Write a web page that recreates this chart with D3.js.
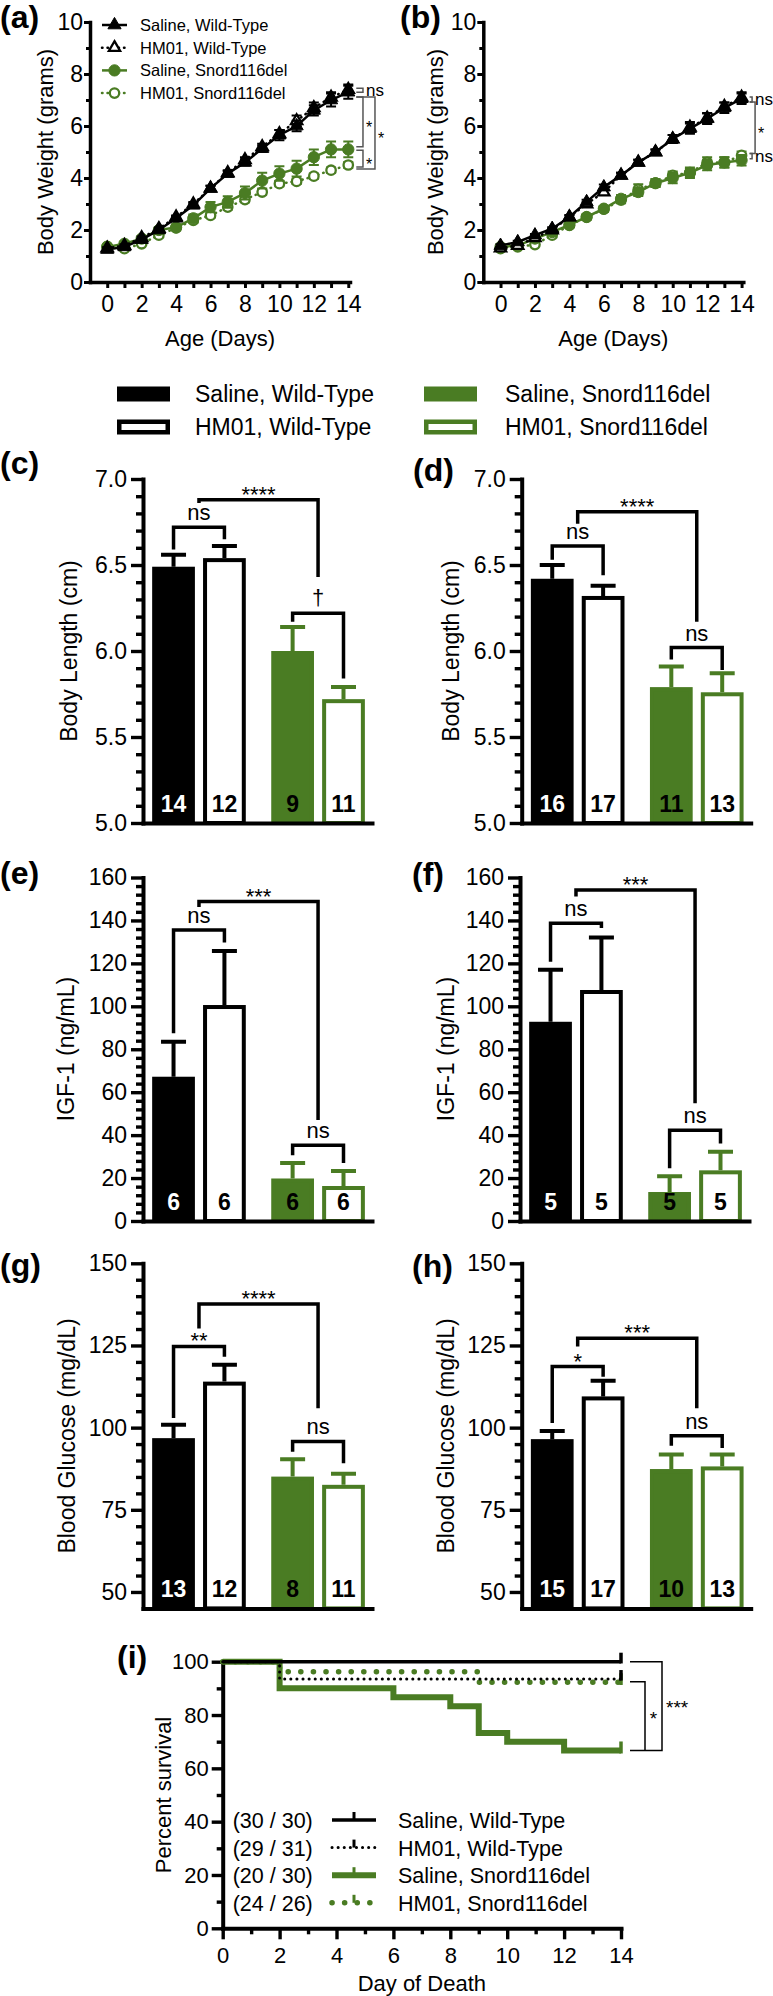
<!DOCTYPE html>
<html><head><meta charset="utf-8">
<script src="https://cdn.jsdelivr.net/npm/d3@7"></script>
<style>body{margin:0;background:#fff}svg{display:block}</style>
</head><body>
<svg id="c" width="773" height="1996"></svg>
<script>
// ---------------- DATA ----------------
const groups = ["Saline, Wild-Type", "HM01, Wild-Type", "Saline, Snord116del", "HM01, Snord116del"];
const days = [0,1,2,3,4,5,6,7,8,9,10,11,12,13,14];

// (a) body weight
const aSalineWT    = [1.25,1.35,1.63,2.0,2.45,2.95,3.6,4.17,4.6,5.13,5.65,6.0,6.6,7.0,7.3];
const aSalineWTErr = [0.05,0.05,0.05,0.06,0.07,0.08,0.1,0.1,0.12,0.12,0.2,0.2,0.2,0.25,0.25];
const aHM01WT      = [1.3,1.4,1.7,2.05,2.5,3.0,3.6,4.2,4.7,5.2,5.7,6.2,6.7,7.1,7.4];
const aHM01WTErr   = [0.05,0.05,0.05,0.05,0.06,0.08,0.1,0.1,0.1,0.12,0.15,0.2,0.2,0.2,0.2];
const aSalineDel   = [1.35,1.47,1.67,2.0,2.1,2.45,2.88,3.08,3.42,3.9,4.17,4.36,4.8,5.1,5.1];
const aSalineDelErr= [0.08,0.08,0.08,0.1,0.12,0.15,0.2,0.22,0.25,0.3,0.28,0.3,0.3,0.3,0.3];
const aHM01Del     = [1.37,1.28,1.47,1.8,2.08,2.37,2.56,2.88,3.17,3.46,3.78,3.87,4.07,4.3,4.5];
const aHM01DelErr  = [0.05,0.05,0.05,0.06,0.07,0.08,0.08,0.1,0.1,0.1,0.1,0.1,0.1,0.1,0.12];
const aSig = [ {y1:7.45,y2:7.3,label:"ns",lane:0}, {y1:7.12,y2:5.2,label:"*",lane:0},
               {y1:5.07,y2:4.42,label:"*",lane:0}, {y1:7.12,y2:4.35,label:"*",lane:1} ];

// (b) body weight
const bSalineWT    = [1.4,1.54,1.8,2.05,2.5,3.08,3.65,4.1,4.6,5.0,5.5,5.9,6.28,6.7,7.05];
const bSalineWTErr = [0.05,0.05,0.05,0.06,0.08,0.08,0.1,0.1,0.1,0.1,0.15,0.2,0.2,0.2,0.2];
const bHM01WT      = [1.3,1.4,1.7,2.0,2.5,3.0,3.46,4.1,4.6,5.0,5.5,5.95,6.3,6.75,7.1];
const bHM01WTErr   = [0.05,0.05,0.05,0.05,0.06,0.08,0.1,0.1,0.1,0.1,0.15,0.2,0.2,0.15,0.2];
const bSalineDel   = [1.35,1.4,1.67,1.92,2.2,2.5,2.82,3.2,3.46,3.8,4.0,4.2,4.5,4.6,4.68];
const bSalineDelErr= [0.05,0.05,0.05,0.06,0.08,0.1,0.1,0.15,0.15,0.15,0.2,0.2,0.2,0.2,0.2];
const bHM01Del     = [1.28,1.35,1.44,1.8,2.18,2.5,2.8,3.15,3.56,3.8,4.1,4.2,4.6,4.6,4.87];
const bHM01DelErr  = [0.05,0.05,0.05,0.06,0.08,0.1,0.1,0.12,0.2,0.15,0.15,0.15,0.2,0.2,0.15];
const bSig = [ {y1:7.12,y2:6.92,label:"ns",lane:0}, {y1:6.92,y2:4.94,label:"*",lane:1},
               {y1:4.94,y2:4.74,label:"ns",lane:0} ];

// (c),(d) body length
const cMean = [6.49,6.54,6.00,5.72], cErr = [0.07,0.07,0.14,0.07], cN = [14,12,9,11];
const cSig = [[0,1,6.72,6.59,6.65,"ns"],[0.5,2.5,6.88,6.86,6.43,"****"],[2,3,6.22,6.17,5.84,"†"]];
const dMean = [6.42,6.32,5.79,5.76], dErr = [0.08,0.06,0.12,0.11], dN = [16,17,11,13];
const dSig = [[0,1,6.61,6.53,6.44,"ns"],[0.5,2.5,6.81,6.74,6.17,"****"],[2,3,6.02,5.95,5.89,"ns"]];
// (e),(f) IGF-1
const eMean = [67.2,100.6,19.8,16.3], eErr = [16.3,25.2,7.2,7.0], eN = [6,6,6,6];
const eSig = [[0,1,135.6,87.5,129.7,"ns"],[0.5,2.5,148.8,146.3,47,"***"],[2,3,35.3,30.6,27,"ns"]];
const fMean = [92.8,107.6,13.5,23.6], fErr = [24.2,24.4,7.3,8.6], fN = [5,5,5,5];
const fSig = [[0,1,138.7,120.8,136.5,"ns"],[0.5,2.5,154.2,151.1,54.8,"***"],[2,3,42.3,24.6,36.1,"ns"]];
// (g),(h) blood glucose
const gMean = [96.8,114.0,85.1,82.6], gErr = [4.1,5.1,5.3,3.4], gN = [13,12,8,11];
const gSig = [[0,1,124.7,102.9,121.6,"**"],[0.5,2.5,137.6,130.2,105.9,"****"],[2,3,95.8,92.7,89.2,"ns"]];
const hMean = [96.5,109.5,87.4,88.2], hErr = [2.5,4.8,4.4,3.6], hN = [15,17,10,13];
const hSig = [[0,1,118.6,101.4,115.5,"*"],[0.5,2.5,127.2,124.7,105.9,"***"],[2,3,97.5,94.5,93.8,"ns"]];

// (i) survival
const survSalineWT  = {t:[0,14], v:[100,100]};
const survHM01WT    = {t:[0,2,14], v:[100,93.5,93.5]};
const survSalineDel = {t:[0,2,6,8,9,10,12,14], v:[100,90,86.7,83.3,73.3,70,66.7,66.7]};
const survHM01Del   = {t:[0,2,9,14], v:[100,96.2,92.3,92.3]};
const survCounts = ["(30 / 30)","(29 / 31)","(20 / 30)","(24 / 26)"];

const weightTicks = [0,2,4,6,8,10];

// ---------------- DRAWING ----------------
const FONT = "'Liberation Sans', Arial, Helvetica, sans-serif";
const GREEN = "#4a7c23";
const COL = ["#000","#000",GREEN,GREEN];
const FILLED = [true,false,true,false];
const svg = d3.select("#c").attr("font-family", FONT);

function styleAxis(s, fs, sw) {
  s.attr("font-family", FONT).attr("font-size", fs);
  s.select(".domain").attr("stroke","#000").attr("stroke-width", sw).attr("stroke-linecap","square");
  s.selectAll(".tick line").attr("stroke","#000").attr("stroke-width", sw*0.85);
  s.selectAll(".tick text").attr("fill","#000");
}
function minorAxis(s, sw) {
  s.select(".domain").remove();
  s.selectAll(".tick line").attr("stroke","#000").attr("stroke-width", sw*0.85);
  s.selectAll(".tick text").remove();
}
function panelLabel(t, x, y) {
  svg.append("text").attr("x",x).attr("y",y).attr("font-size",32).attr("font-weight","bold").text(t);
}
function yTitle(t, cx, cy, fs) {
  svg.append("text").attr("transform",`translate(${cx},${cy}) rotate(-90)`)
    .attr("text-anchor","middle").attr("dominant-baseline","central").attr("font-size",fs).text(t);
}

// ---- line panels ----
function linePanel(left, series, sig, laneOff) {
  const x = d3.scaleLinear().domain([-1,14.1]).range([left,left+260]);
  const y = d3.scaleLinear().domain([0,10]).range([282,22]);
  const g = svg.append("g");
  g.append("g").attr("transform",`translate(${left},0)`)
    .call(d3.axisLeft(y).tickValues([1,3,5,7,9]).tickSize(4)).call(s=>minorAxis(s,3.5));
  g.append("g").attr("transform",`translate(${left},0)`)
    .call(d3.axisLeft(y).tickValues(weightTicks).tickSize(6).tickSizeOuter(0).tickPadding(1))
    .call(s=>styleAxis(s,23,3.5));
  g.append("g").attr("transform",`translate(0,${y(0)})`)
    .call(d3.axisBottom(x).tickValues(days).tickSize(6).tickSizeOuter(0).tickPadding(8)
      .tickFormat(d => d%2===0 ? d : ""))
    .call(s=>styleAxis(s,23,3.5));
  g.append("text").attr("x",(left+left+260)/2).attr("y",346).attr("text-anchor","middle")
    .attr("font-size",22).text("Age (Days)");

  [3,2,1,0].forEach(k => {
    const s = series[k];
    const line = d3.line().x((d,i)=>x(days[i])).y(d=>y(d));
    g.append("path").attr("d", line(s.v)).attr("fill","none").attr("stroke",COL[k])
      .attr("stroke-width",2.5).attr("stroke-dasharray", FILLED[k] ? null : "0.5,5")
      .attr("stroke-linecap", FILLED[k] ? "butt" : "round");
    s.v.forEach((v,i)=>{
      const xi = x(days[i]), e = s.e[i];
      g.append("path").attr("d",`M${xi},${y(v-e)}V${y(v+e)}M${xi-5},${y(v+e)}H${xi+5}M${xi-5},${y(v-e)}H${xi+5}`)
        .attr("stroke",COL[k]).attr("stroke-width",2).attr("fill","none");
    });
    g.selectAll(null).data(s.v).enter().append("path")
      .attr("transform",(d,i)=>`translate(${x(days[i])},${y(d)})`)
      .attr("d", d3.symbol(k<2 ? d3.symbolTriangle : d3.symbolCircle, k<2 ? (FILLED[k]?75:55) : (FILLED[k]?100:70))())
      .attr("fill", FILLED[k] ? COL[k] : "#fff").attr("stroke", COL[k]).attr("stroke-width", FILLED[k]?1:2.3);
  });

  // significance
  const x14 = x(14);
  sig.forEach(b => {
    const xv = x14 + laneOff[b.lane], xs = x14 + 8;
    g.append("path").attr("d",`M${xs},${y(b.y1)}H${xv}V${y(b.y2)}H${xs}`)
      .attr("stroke","#555").attr("stroke-width",1.5).attr("fill","none");
    const star = b.label !== "ns";
    g.append("text").attr("x", xv+3).attr("y", y((b.y1+b.y2)/2) + (star?6:0))
      .attr("dominant-baseline","central").attr("font-size", star?16:17).text(b.label);
  });
  return {x,y,g};
}

const A = linePanel(90, [
  {v:aSalineWT,e:aSalineWTErr},{v:aHM01WT,e:aHM01WTErr},{v:aSalineDel,e:aSalineDelErr},{v:aHM01Del,e:aHM01DelErr}
], aSig, [14.7, 26.7]);
linePanel(483.3, [
  {v:bSalineWT,e:bSalineWTErr},{v:bHM01WT,e:bHM01WTErr},{v:bSalineDel,e:bSalineDelErr},{v:bHM01Del,e:bHM01DelErr}
], bSig, [10.5, 13.5]);

// legend in (a)
groups.forEach((name,k)=>{
  const ry = 25 + k*22.7;
  A.g.append("line").attr("x1",102).attr("x2",127).attr("y1",ry).attr("y2",ry)
    .attr("stroke",COL[k]).attr("stroke-width",2.5)
    .attr("stroke-dasharray", FILLED[k]?null:"0.5,5").attr("stroke-linecap", FILLED[k]?"butt":"round");
  A.g.append("path").attr("transform",`translate(114.5,${ry})`)
    .attr("d", d3.symbol(k<2 ? d3.symbolTriangle : d3.symbolCircle, k<2 ? (FILLED[k]?75:55) : (FILLED[k]?100:70))())
    .attr("fill", FILLED[k] ? COL[k] : "#fff").attr("stroke", COL[k]).attr("stroke-width", FILLED[k]?1:2.3);
  A.g.append("text").attr("x",140).attr("y",ry+6).attr("font-size",16.5).text(name);
});

panelLabel("(a)", 0, 28);
panelLabel("(b)", 400, 28);
yTitle("Body Weight (grams)", 45, 152, 22);
yTitle("Body Weight (grams)", 435, 152, 22);

// ---- bar legend ----
groups.forEach((name,k)=>{
  const col = k<2 ? 0 : 1, row = k%2;
  const rx = col ? 424 : 117, tx = col ? 505 : 195;
  const ry = row ? 427 : 394;
  if (FILLED[k]) svg.append("rect").attr("x",rx).attr("y",ry-7.5).attr("width",53).attr("height",15).attr("fill",COL[k]);
  else svg.append("rect").attr("x",rx+2.25).attr("y",ry-5.25).attr("width",48.5).attr("height",10.5)
          .attr("fill","#fff").attr("stroke",COL[k]).attr("stroke-width",4.5);
  svg.append("text").attr("x",tx).attr("y",ry+8).attr("font-size",23).text(name);
});

// ---- bar panels ----
function barPanel(o) {
  const y = d3.scaleLinear().domain(o.dom).range([o.yb, o.yt]);
  const x = d3.scaleLinear().domain([0,4.5]).range([o.ax, o.ax+229]);
  const pos = groups.map((d,i)=> i + 0.6 + (i>=2 ? 0.34 : 0));
  const bw = 0.84*(x(1)-x(0));
  const g = svg.append("g");
  o.mean.forEach((m,i)=>{
    const cx = x(pos[i]), top = y(m), bot = y(o.dom[0]);
    const col = COL[i];
    g.append("rect").attr("x",cx-bw/2+2).attr("y",top+2).attr("width",bw-4).attr("height",bot-top-2)
      .attr("fill", FILLED[i]?col:"#fff").attr("stroke",col).attr("stroke-width",4);
    const et = y(m+o.err[i]);
    g.append("path").attr("d",`M${cx},${top}V${et}M${cx-12.5},${et}H${cx+12.5}`)
      .attr("stroke",col).attr("stroke-width",4).attr("fill","none");
    g.append("text").attr("x",cx).attr("y",bot-11).attr("text-anchor","middle")
      .attr("font-size",23).attr("font-weight","bold").attr("fill", i===0?"#fff":"#000").text(o.n[i]);
  });
  g.append("g").attr("transform",`translate(${o.ax},0)`)
    .call(d3.axisLeft(y).tickValues(o.minor).tickSize(7)).call(s=>minorAxis(s,4));
  g.append("g").attr("transform",`translate(${o.ax},0)`)
    .call(d3.axisLeft(y).tickValues(o.major).tickSize(12).tickSizeOuter(0).tickPadding(4).tickFormat(o.fmt))
    .call(s=>styleAxis(s,23,4));
  g.append("g").attr("transform",`translate(0,${y(o.dom[0])})`)
    .call(d3.axisBottom(x).tickValues([]).tickSizeOuter(0)).call(s=>styleAxis(s,23,4));
  const px = k => { const i0 = Math.floor(k), f = k - i0; return f ? x(pos[i0] + f*(pos[i0+1]-pos[i0])) : x(pos[k]); };
  o.sig.forEach(([k1,k2,top,b1,b2,label])=>{
    const x1 = px(k1), x2 = px(k2);
    g.append("path").attr("d",`M${x1},${y(b1)}V${y(top)}H${x2}V${y(b2)}`)
      .attr("stroke","#000").attr("stroke-width",3.5).attr("fill","none").attr("stroke-linecap","butt");
    const star = label.includes("*"), dag = label === "†";
    g.append("text").attr("x",(x1+x2)/2).attr("y", y(top) + (star ? 2 : dag ? -8 : -7))
      .attr("text-anchor","middle").attr("font-size",22).text(label);
  });
}

const lenMajor = [5.0,5.5,6.0,6.5,7.0];
const lenMinor = [5.1,5.2,5.3,5.4,5.6,5.7,5.8,5.9,6.1,6.2,6.3,6.4,6.6,6.7,6.8,6.9];
const igfMajor = [0,20,40,60,80,100,120,140,160];
const igfMinor = [4,8,12,16,24,28,32,36,44,48,52,56,64,68,72,76,84,88,92,96,104,108,112,116,124,128,132,136,144,148,152,156];
const gluMajor = [50,75,100,125,150];
const gluMinor = [55,60,65,70,80,85,90,95,105,110,115,120,130,135,140,145];

barPanel({ax:143, dom:[5,7], yb:823, yt:479, major:lenMajor, minor:lenMinor, fmt:d3.format(".1f"), mean:cMean, err:cErr, n:cN, sig:cSig});
barPanel({ax:521.7, dom:[5,7], yb:823, yt:479, major:lenMajor, minor:lenMinor, fmt:d3.format(".1f"), mean:dMean, err:dErr, n:dN, sig:dSig});
barPanel({ax:143, dom:[0,160], yb:1221, yt:877.5, major:igfMajor, minor:igfMinor, fmt:d3.format("d"), mean:eMean, err:eErr, n:eN, sig:eSig});
barPanel({ax:520, dom:[0,160], yb:1221, yt:877.5, major:igfMajor, minor:igfMinor, fmt:d3.format("d"), mean:fMean, err:fErr, n:fN, sig:fSig});
barPanel({ax:143, dom:[45,150], yb:1608.4, yt:1263.3, major:gluMajor, minor:gluMinor, fmt:d3.format("d"), mean:gMean, err:gErr, n:gN, sig:gSig});
barPanel({ax:521.7, dom:[45,150], yb:1608.4, yt:1263.3, major:gluMajor, minor:gluMinor, fmt:d3.format("d"), mean:hMean, err:hErr, n:hN, sig:hSig});

panelLabel("(c)", 0, 474); panelLabel("(d)", 413, 481);
panelLabel("(e)", 0, 884); panelLabel("(f)", 412, 885);
panelLabel("(g)", 0, 1276); panelLabel("(h)", 412, 1277);
yTitle("Body Length (cm)", 69, 651, 23); yTitle("Body Length (cm)", 451, 651, 23);
yTitle("IGF-1 (ng/mL)", 66, 1049, 23); yTitle("IGF-1 (ng/mL)", 446, 1049, 23);
yTitle("Blood Glucose (mg/dL)", 67, 1436, 23); yTitle("Blood Glucose (mg/dL)", 446, 1436, 23);

// ---- survival panel ----
(function(){
  const x = d3.scaleLinear().domain([0,14]).range([222.7,621]);
  const y = d3.scaleLinear().domain([0,100]).range([1928.3,1661.7]);
  const g = svg.append("g");
  g.append("g").attr("transform",`translate(${x(0)},0)`)
    .call(d3.axisLeft(y).tickValues([10,30,50,70,90]).tickSize(6)).call(s=>minorAxis(s,4));
  g.append("g").attr("transform",`translate(${x(0)},0)`)
    .call(d3.axisLeft(y).tickValues([0,20,40,60,80,100]).tickSize(11).tickSizeOuter(0).tickPadding(3))
    .call(s=>styleAxis(s,22,4));
  g.append("g").attr("transform",`translate(0,${y(0)})`)
    .call(d3.axisBottom(x).tickValues([1,3,5,7,9,11,13]).tickSize(6)).call(s=>minorAxis(s,4));
  g.append("g").attr("transform",`translate(0,${y(0)})`)
    .call(d3.axisBottom(x).tickValues([0,2,4,6,8,10,12,14]).tickSize(11).tickSizeOuter(0).tickPadding(8))
    .call(s=>styleAxis(s,22,4));
  g.append("text").attr("x",(x(0)+x(14))/2).attr("y",1991).attr("text-anchor","middle").attr("font-size",22).text("Day of Death");

  const curves = [survSalineWT, survHM01WT, survSalineDel, survHM01Del];
  const W = [3.5, 3, 6, 5.5], DASH = [null, "0.1,6", null, "0.1,12.5"];
  const line = d3.line().curve(d3.curveStepAfter).x(d=>x(d[0])).y(d=>y(d[1]));
  [2,3,1,0].forEach(k=>{
    const c = curves[k];
    const pts = c.t.map((t,i)=>[t,c.v[i]]);
    g.append("path").attr("d",line(pts)).attr("fill","none").attr("stroke",COL[k])
      .attr("stroke-width",W[k]).attr("stroke-dasharray",DASH[k]).attr("stroke-linecap",DASH[k]?"round":"butt");
    const last = c.v[c.v.length-1];
    g.append("line").attr("x1",x(14)).attr("x2",x(14)).attr("y1",y(last)+W[k]/2).attr("y2",y(last)-9)
      .attr("stroke",COL[k]).attr("stroke-width",3.5);
  });

  const xa = 630, xIn = 645, xOut = 662;
  g.append("path").attr("d",`M${xa},${y(92.5)}H${xIn}V${y(66.7)}M${xa},${y(100)}H${xOut}V${y(66.7)}H${xa}`)
    .attr("fill","none").attr("stroke","#000").attr("stroke-width",1.5);
  g.append("text").attr("x",(xIn+xOut)/2).attr("y",y(79.6)+9).attr("text-anchor","middle").attr("font-size",19).text("*");
  g.append("text").attr("x",xOut+4).attr("y",y(83.7)+9).attr("font-size",19).text("***");

  groups.forEach((name,k)=>{
    const ry = 1820 + k*27.6;
    g.append("text").attr("x",232.7).attr("y",ry+8).attr("font-size",21.5).text(survCounts[k]);
    g.append("line").attr("x1",332).attr("x2",376).attr("y1",ry).attr("y2",ry).attr("stroke",COL[k])
      .attr("stroke-width",W[k]).attr("stroke-dasharray",DASH[k]).attr("stroke-linecap",DASH[k]?"round":"butt");
    g.append("line").attr("x1",354).attr("x2",354).attr("y1",ry).attr("y2",ry-8).attr("stroke",COL[k]).attr("stroke-width",3);
    g.append("text").attr("x",398).attr("y",ry+8).attr("font-size",21.5).text(name);
  });
})();
panelLabel("(i)", 117, 1668);
yTitle("Percent survival", 163, 1795, 22);
</script>
</body></html>
